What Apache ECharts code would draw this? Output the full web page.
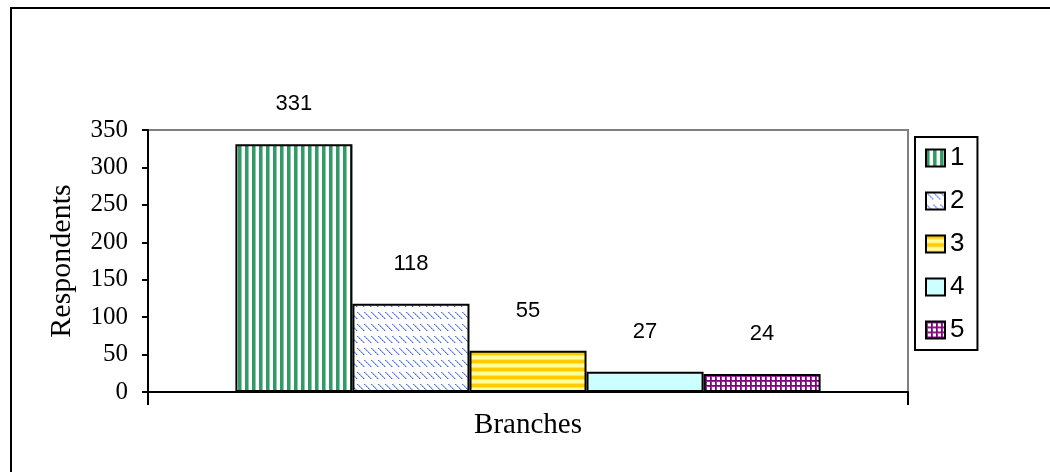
<!DOCTYPE html>
<html>
<head>
<meta charset="utf-8">
<script src="https://cdn.jsdelivr.net/npm/echarts@6/dist/echarts.min.js"></script>
<style>
    html, body { margin: 0; padding: 0; background: #fff; }
    #chart { width: 1050px; height: 472px; }
</style>
</head>
<body>
<div id="chart"></div>
<script>
    // data
    const categories = ['Branches'];
    const seriesNames = ['1', '2', '3', '4', '5'];
    const seriesValues = [331, 118, 55, 27, 24];
    const yTicks = {min: 0, max: 350, interval: 50};

    // small pattern tiles drawn on canvas
    function makeTile(w, h, draw) {
        const c = document.createElement('canvas');
        c.width = w;
        c.height = h;
        const ctx = c.getContext('2d');
        ctx.fillStyle = '#ffffff';
        ctx.fillRect(0, 0, w, h);
        draw(ctx);
        return {image: c, repeat: 'repeat'};
    }

    const fills = [
        // green vertical stripes
        makeTile(7, 4, function (ctx) {
            ctx.fillStyle = '#339966';
            ctx.fillRect(0, 0, 3, 4);
            ctx.fillStyle = '#8cc9a8';
            ctx.fillRect(3, 0, 1, 4);
        }),
        // blue diagonal dashes
        makeTile(7, 12, function (ctx) {
            for (let i = 0; i < 7; i++) {
                ctx.fillStyle = i % 2 ? '#8aa5f3' : '#4f72ec';
                ctx.fillRect(i, i, 1, 1);
                ctx.fillStyle = '#b7c8f8';
                ctx.fillRect((i + 1) % 7, i, 1, 1);
            }
        }),
        // yellow horizontal stripes
        makeTile(4, 8, function (ctx) {
            ctx.fillStyle = '#ffff99';
            ctx.fillRect(0, 0, 4, 8);
            ctx.fillStyle = '#ffcc00';
            ctx.fillRect(0, 0, 4, 3);
            ctx.fillStyle = '#ffe36a';
            ctx.fillRect(0, 3, 4, 1);
            ctx.fillRect(0, 7, 4, 1);
        }),
        '#ccffff',
        // purple grid
        makeTile(5, 5, function (ctx) {
            ctx.fillStyle = '#993399';
            ctx.fillRect(0, 1, 5, 1);
            ctx.fillRect(1, 0, 1, 5);
            ctx.fillStyle = '#800080';
            ctx.fillRect(0, 0, 5, 1);
            ctx.fillRect(0, 0, 1, 5);
        })
    ];

    const chart = echarts.init(document.getElementById('chart'));

    const series = seriesNames.map(function (name, i) {
        return {
            name: name,
            type: 'bar',
            data: [seriesValues[i]],
            barGap: '0%',
            barCategoryGap: '23%',
            itemStyle: {
                color: fills[i],
                borderColor: '#000',
                borderWidth: 2
            },
            label: {
                show: true,
                position: 'top',
                distance: 29,
                color: '#000',
                fontFamily: 'Liberation Sans',
                fontSize: 22
            },
            emphasis: {disabled: true}
        };
    });

    const option = {
        animation: false,
        backgroundColor: '#fff',
        grid: {
            left: 148,
            right: 142,
            top: 130,
            bottom: 80,
            show: true,
            borderColor: '#808080',
            borderWidth: 2
        },
        legend: {
            orient: 'vertical',
            left: 915,
            top: 137,
            icon: 'rect',
            itemWidth: 19,
            itemHeight: 17,
            itemGap: 17,
            borderColor: '#000',
            borderWidth: 2,
            padding: [8, 13, 7, 10],
            textStyle: {
                fontFamily: 'Liberation Sans',
                fontSize: 26,
                color: '#000'
            },
            data: seriesNames
        },
        xAxis: {
            type: 'category',
            data: categories,
            axisLine: {lineStyle: {color: '#000', width: 2}},
            axisTick: {show: true, length: 13, lineStyle: {color: '#000', width: 2}},
            axisLabel: {
                margin: 19,
                color: '#000',
                fontFamily: 'Liberation Serif',
                fontSize: 29
            }
        },
        yAxis: {
            type: 'value',
            min: yTicks.min,
            max: yTicks.max,
            interval: yTicks.interval,
            name: 'Respondents',
            nameLocation: 'middle',
            nameGap: 71,
            nameRotate: 90,
            nameTextStyle: {
                color: '#000',
                fontFamily: 'Liberation Serif',
                fontSize: 30
            },
            axisLine: {show: true, lineStyle: {color: '#000', width: 2}},
            axisTick: {show: true, length: 6, lineStyle: {color: '#000', width: 2}},
            splitLine: {show: false},
            axisLabel: {
                margin: 20,
                color: '#000',
                fontFamily: 'Liberation Serif',
                fontSize: 25
            }
        },
        graphic: [
            {
                type: 'polyline',
                shape: {points: [[11, 472], [11, 8], [1050, 8]]},
                style: {stroke: '#000', lineWidth: 2, fill: null},
                silent: true
            }
        ],
        series: series
    };

    chart.setOption(option);
</script>
</body>
</html>
